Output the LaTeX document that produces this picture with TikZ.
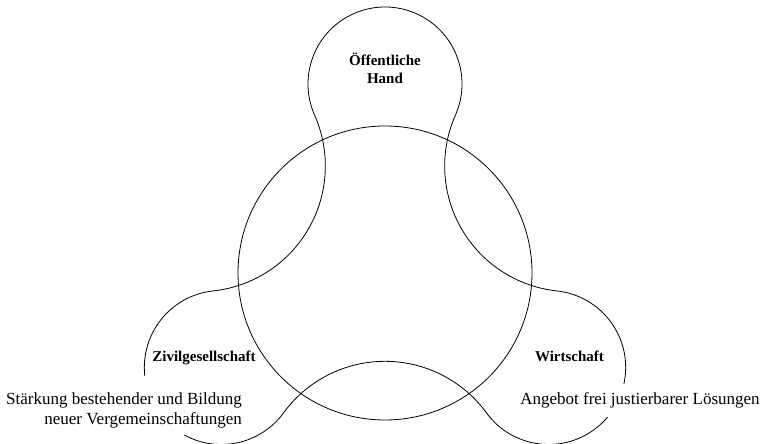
\documentclass[tikz,border=0pt]{standalone}
\usepackage{fontspec}
\setmainfont{Liberation Serif}
\usetikzlibrary{calc}
\begin{document}
\begin{tikzpicture}[x=1pt,y=1pt,
  outline/.style={draw=black, line width=0.8pt},
  sector/.style={font=\fontsize{15}{17.3}\selectfont\bfseries, align=center, inner sep=1pt},
  note/.style={font=\fontsize{17}{20}\selectfont, fill=white, inner xsep=4pt, inner ysep=7pt}]
\useasboundingbox (0,0) rectangle (764,444);
% centre of the figure and the three lobes around it
\coordinate (hub) at (385,171);
\coordinate (lobeTop) at ($(hub)+(90:189)$);
\def\rb{77}
\def\rc{125.65}
% central circle
\draw[outline] (hub) circle[radius=147];
% three-lobed outline: lobe arcs joined by concave arcs
\draw[outline] (lobeTop) ++(-23.87:\rb)
  arc[start angle=-23.87, end angle=203.87, radius=\rb]
  arc[start angle=23.87, end angle=-83.87, radius=\rc]
  arc[start angle=96.13, end angle=323.87, radius=\rb]
  arc[start angle=143.87, end angle=36.13, radius=\rc]
  arc[start angle=216.13, end angle=443.87, radius=\rb]
  arc[start angle=263.87, end angle=156.13, radius=\rc]
  -- cycle;
% lobe titles
\node[sector] (oeff) at (385,375.6) {Öffentliche\\Hand};
\node[sector, anchor=base] (zivil) at (204,82) {Zivilgesellschaft};
\node[sector, anchor=base] (wirt) at (569.5,82) {Wirtschaft};
% descriptions
\node[note, align=right, anchor=south east] (staerkung) at (246,8.3)
  {\rule{0pt}{22pt}Stärkung bestehender und Bildung\\neuer Vergemeinschaftungen};
\node[note, anchor=base, text height=13pt, text depth=4pt, inner ysep=8pt] (angebot) at (640,39)
  {Angebot frei justierbarer Lösungen};
\end{tikzpicture}
\end{document}
